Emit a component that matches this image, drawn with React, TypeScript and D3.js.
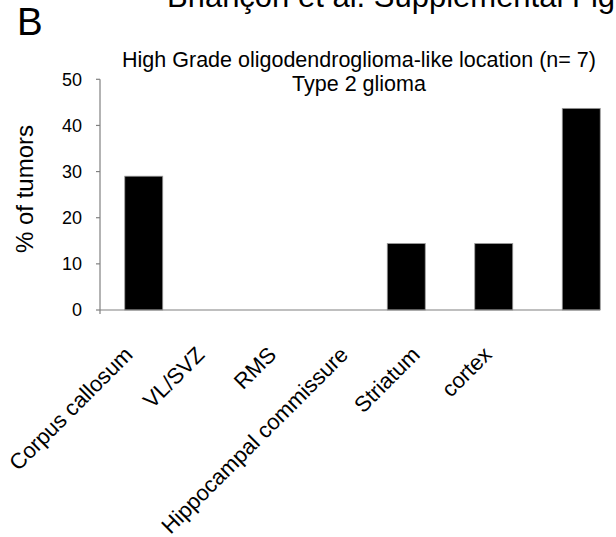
import React from "react";
import * as d3 from "d3";

const categories = ["Corpus callosum", "VL/SVZ", "RMS", "Hippocampal commissure", "Striatum", "cortex"];
const values = [29, 0, 0, 14.4, 14.4, 43.7];
const yTicks = [0, 10, 20, 30, 40, 50];
const titleLines = ["High Grade oligodendroglioma-like location (n= 7)", "Type 2 glioma"];
const yLabel = "% of tumors";
const panelLabel = "B";
const header = "Briançon et al. Supplemental Figure 4";

const W = 616;
const H = 537;
const FONT = "'Liberation Sans', Arial, Helvetica, sans-serif";

export default function App() {
  const x = d3
    .scaleBand<string>()
    .domain(categories)
    .range([100, 625])
    .paddingInner(0.566)
    .paddingOuter(0.283);
  // tick labels are laid out along their own (narrower) span in the reference
  const xLabel = d3.scalePoint<string>().domain(categories).range([134, 493]);
  const y = d3.scaleLinear().domain([0, 50]).range([310, 79.3]);
  const axisColor = "#808080";

  return (
    <div style={{ position: "absolute", left: 0, top: 0 }}>
      <svg width={W} height={H} style={{ display: "block", background: "#fff" }} fontFamily={FONT}>
        <text x={167} y={7} fontSize={31} fill="#000">{header}</text>
        <text x={17} y={35} fontSize={38.5} fill="#000">{panelLabel}</text>
        {titleLines.map((t, i) => (
          <text key={i} x={359} y={67 + i * 24} fontSize={21.5} textAnchor="middle" fill="#000">
            {t}
          </text>
        ))}
        <text
          transform={`translate(33, 189) rotate(-90)`}
          fontSize={24}
          textAnchor="middle"
          fill="#000"
        >
          {yLabel}
        </text>
        {/* bars */}
        {categories.map((c, i) =>
          values[i] > 0 ? (
            <rect
              key={c}
              x={x(c)!}
              y={y(values[i])}
              width={x.bandwidth()}
              height={y(0) - y(values[i])}
              fill="#000"
              stroke="#9a9a9a"
              strokeWidth={0.8}
            />
          ) : null
        )}
        {/* y axis */}
        <line x1={100} x2={100} y1={y(50)} y2={y(0) + 4} stroke={axisColor} strokeWidth={1.2} />
        {yTicks.map((t) => (
          <g key={t}>
            <line x1={96} x2={100} y1={y(t)} y2={y(t)} stroke={axisColor} strokeWidth={1.2} />
            <text x={82} y={y(t)} dy="0.36em" fontSize={18} textAnchor="end" fill="#000">
              {t}
            </text>
          </g>
        ))}
        {/* x axis */}
        <line x1={100} x2={600} y1={y(0)} y2={y(0)} stroke={axisColor} strokeWidth={1.2} />
        {categories.map((c) => (
          <text
            key={c}
            transform={`translate(${xLabel(c)!}, 356) rotate(-45)`}
            fontSize={22}
            textAnchor="end"
            fill="#000"
          >
            {c}
          </text>
        ))}
      </svg>
    </div>
  );
}
